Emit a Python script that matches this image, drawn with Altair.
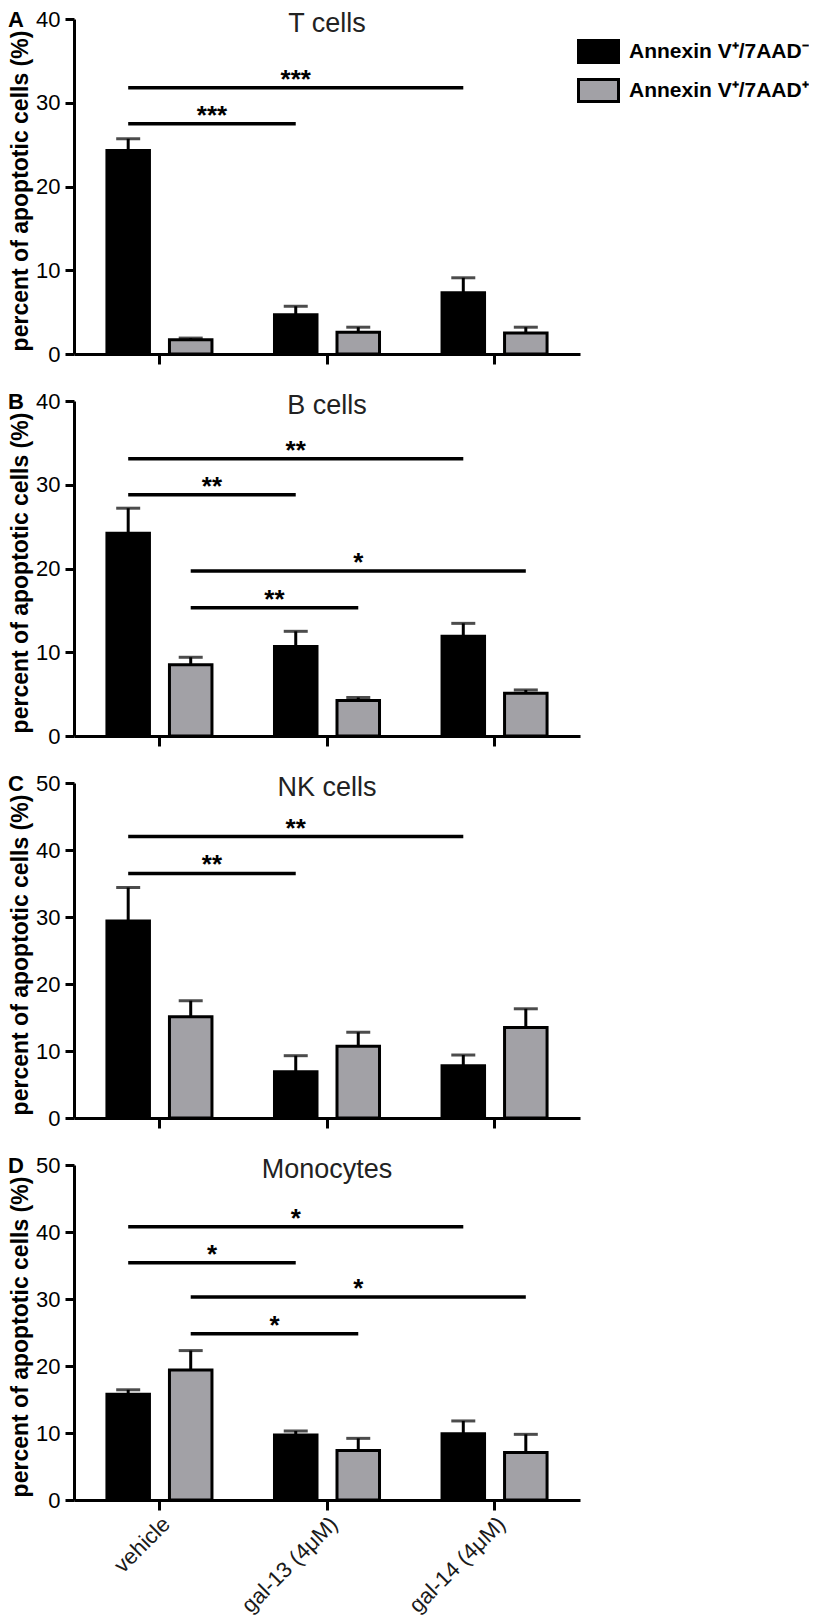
import math
import altair as alt
import pandas as pd

# ---------------- data ----------------
groups = ["vehicle", "gal-13 (4μM)", "gal-14 (4μM)"]
series = ["Annexin V⁺/7AAD⁻", "Annexin V⁺/7AAD⁺"]
panels = ["T cells", "B cells", "NK cells", "Monocytes"]
letters = ["A", "B", "C", "D"]
y_max = [40, 40, 50, 50]

# mean and SEM (%) per panel, per treatment group
neg_mean = [[24.3, 4.7, 7.3], [24.2, 10.7, 11.9], [29.4, 6.9, 7.8], [15.8, 9.7, 9.9]]
neg_sem = [[1.4, 1.0, 1.8], [3.0, 1.8, 1.55], [5.0, 2.4, 1.6], [0.65, 0.6, 1.9]]
pos_mean = [[1.7, 2.6, 2.5], [8.5, 4.25, 5.1], [15.1, 10.7, 13.5], [19.4, 7.4, 7.1]]
pos_sem = [[0.2, 0.6, 0.7], [0.9, 0.35, 0.4], [2.4, 2.1, 2.8], [2.9, 1.8, 2.7]]

# significance brackets
br_panel = [0, 0, 1, 1, 1, 1, 2, 2, 3, 3, 3, 3]
br_series = [0, 0, 0, 0, 1, 1, 0, 0, 0, 0, 1, 1]
br_from = [0, 0, 0, 0, 0, 0, 0, 0, 0, 0, 0, 0]
br_to = [1, 2, 1, 2, 1, 2, 1, 2, 1, 2, 1, 2]
br_y = [27.5, 31.8, 28.8, 33.1, 15.3, 19.7, 36.5, 42.0, 35.4, 40.8, 24.8, 30.3]
br_label = ["***", "***", "**", "**", "**", "*", "**", "**", "*", "*", "*", "*"]

# ---------------- style ----------------
FONT = "Liberation Sans"
W, H = 506, 335
GRAY = "#a2a1a6"
PI, PO = 0.32, 0.5  # padding of the sub-band (xOffset) scale
step = 1.0 / (2 - PI + 2 * PO)
bw = step * (1 - PI)
start = step * PO
frac = [start + bw / 2, start + step + bw / 2]  # series centre within band

YTITLE = "percent of apoptotic cells (%)"


def panel(i):
    last = i == len(panels) - 1
    rows = []
    for g in range(3):
        rows.append({"group": groups[g], "series": series[0],
                     "mean": neg_mean[i][g], "sem": neg_sem[i][g]})
        rows.append({"group": groups[g], "series": series[1],
                     "mean": pos_mean[i][g], "sem": pos_sem[i][g]})
    df = pd.DataFrame(rows)

    xscale = alt.Scale(domain=groups, paddingInner=0, paddingOuter=0.01)
    if last:
        xaxis = alt.Axis(labels=True, labelAngle=-45, labelAlign="right",
                         labelBaseline="top", labelFontSize=22, labelPadding=3,
                         labelColor="#1a1a1a", tickSize=10, title=None)
    else:
        xaxis = alt.Axis(labels=False, tickSize=10, title=None)
    yscale = alt.Scale(domain=[0, y_max[i]], nice=False)
    yaxis = alt.Axis(values=list(range(0, y_max[i] + 1, 10)), title=YTITLE,
                     tickSize=9, labelPadding=5, labelFontSize=22,
                     titleFontSize=23, titleFontWeight="bold", titlePadding=3,
                     titleY=H / 2 + 4)

    def X(field, bp=None):
        kw = {} if bp is None else {"bandPosition": bp}
        return alt.X(f"{field}:N", scale=xscale, axis=xaxis, title=None, **kw)

    def Y(field):
        return alt.Y(f"{field}:Q", scale=yscale, axis=yaxis, title=YTITLE)

    xoff = alt.XOffset("series:N", scale=alt.Scale(domain=series, paddingInner=PI, paddingOuter=PO))

    if i == 0:
        legend = alt.Legend(orient="none", legendX=503, legendY=11, title=None,
                            symbolType="M-1,-0.55H1V0.55H-1Z", symbolSize=1600,
                            symbolStrokeColor="black", symbolStrokeWidth=3,
                            labelFont=FONT, labelFontSize=21, labelFontWeight="bold",
                            labelColor="black", labelLimit=0, labelOffset=9,
                            rowPadding=-1, padding=0)
    else:
        legend = None

    base = alt.Chart(df)
    bars = base.mark_bar(stroke="black", strokeWidth=3).encode(
        x=X("group"), xOffset=xoff, y=Y("mean"),
        fill=alt.Fill("series:N", scale=alt.Scale(domain=series, range=["#000000", GRAY]),
                      legend=legend),
    )
    stems = base.transform_calculate(upper="datum.mean + datum.sem").mark_rule(
        color="black", strokeWidth=3).encode(
        x=X("group"), xOffset=xoff, y=Y("mean"), y2="upper:Q")
    caps = base.transform_calculate(upper="datum.mean + datum.sem").mark_tick(
        color="black", thickness=3, size=24, orient="horizontal").encode(
        x=X("group"), xOffset=xoff, y=Y("upper"))

    layers = [stems, bars, caps]

    for k in range(len(br_panel)):
        if br_panel[k] != i:
            continue
        s = br_series[k]
        # midpoint of the bracket, in band units
        mid = br_from[k] + frac[s] + (br_to[k] - br_from[k]) / 2.0
        mid_group = int(math.floor(mid))
        mid_frac = mid - mid_group
        bdf = pd.DataFrame([{"start": groups[br_from[k]], "end": groups[br_to[k]],
                             "mid": groups[mid_group],
                             "y": br_y[k], "label": br_label[k]}])
        rule = alt.Chart(bdf).mark_rule(color="black", strokeWidth=3.5).encode(
            x=X("start", frac[s]), x2=alt.X2("end:N", bandPosition=frac[s]), y=Y("y"))
        txt = alt.Chart(bdf).mark_text(font=FONT, fontSize=26, fontWeight="bold",
                                       color="black", align="center",
                                       baseline="alphabetic", dy=0).encode(
            x=X("mid", mid_frac), y=Y("y"), text="label:N")
        layers += [rule, txt]

    letter = alt.Chart(pd.DataFrame({"t": [letters[i]]})).mark_text(
        font=FONT, fontSize=22, fontWeight="bold", color="black",
        align="left", baseline="alphabetic").encode(
        x=alt.value(-66), y=alt.value(8), text="t:N")
    title = alt.Chart(pd.DataFrame({"t": [panels[i]]})).mark_text(
        font=FONT, fontSize=27, color="#222222",
        align="center", baseline="alphabetic").encode(
        x=alt.value(W / 2), y=alt.value(13), text="t:N")
    layers += [letter, title]

    return alt.layer(*layers).properties(width=W, height=H)


charts = [panel(i) for i in range(len(panels))]

chart = alt.vconcat(*charts, spacing=47, bounds="flush").resolve_scale(
    fill="independent").properties(
    padding={"left": 0, "top": 0, "right": 0, "bottom": 0}
).configure(font=FONT).configure_view(stroke=None).configure_axis(
    domainColor="black", domainWidth=3, tickColor="black", tickWidth=3,
    labelColor="black", titleColor="black", labelFont=FONT, titleFont=FONT, grid=False
)

chart.save("out.html", embed_options={"renderer": "svg", "actions": False})
